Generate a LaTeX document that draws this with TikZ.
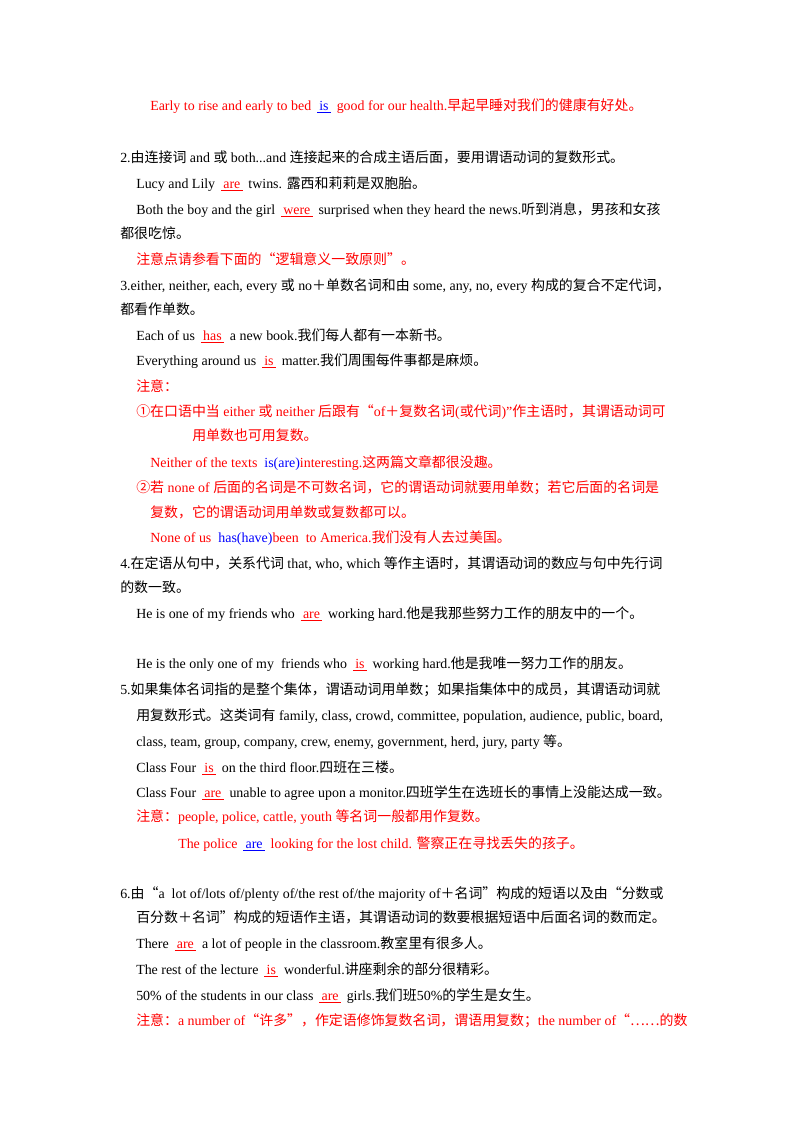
\documentclass[tikz,border=0pt]{standalone}
\usepackage{fontspec}
\setmainfont{Liberation Serif}
\newfontfamily\zhf{Noto Sans CJK SC}
\newcommand\zh[1]{{\zhf #1}}
\newcommand\ulr[1]{\,\textcolor{red}{\underline{\,#1\,}}\,}
\newcommand\ulb[1]{\,\textcolor{blue}{\underline{\,#1\,}}\,}
\begin{document}
\begin{tikzpicture}[x=0.75pt,y=-0.75pt,
  ln/.style={anchor=base west,inner sep=0pt,font=\fontsize{10.45pt}{12pt}\selectfont},
  rd/.style={ln,text=red}]
\fill[white] (0,0) rectangle (800,1132);
\useasboundingbox (0,0) rectangle (800,1132);
\node[rd] (l1) at (150,110) {Early to rise and early to bed \ulb{is} good for our health.\zh{早起早睡对我们的健康有好处。}};
\node[ln] (l2) at (120,162) {2.\zh{由连接词} and \zh{或} both...and \zh{连接起来的合成主语后面，要用谓语动词的复数形式。}};
\node[ln] (l3) at (136,188) {Lucy and Lily \ulr{are} twins. \zh{露西和莉莉是双胞胎。}};
\node[ln] (l4) at (136,214) {Both the boy and the girl \ulr{were} surprised when they heard the news.\zh{听到消息，男孩和女孩}};
\node[ln] (l5) at (120,238) {\zh{都很吃惊。}};
\node[rd] (l6) at (136,264) {\zh{注意点请参看下面的“逻辑意义一致原则”。}};
\node[ln] (l7) at (120,290) {3.either, neither, each, every \zh{或} no\zh{＋}\zh{单数名词和由} some, any, no, every \zh{构成的复合不定代词，}};
\node[ln] (l8) at (120,314) {\zh{都看作单数。}};
\node[ln] (l9) at (136,340) {Each of us \ulr{has} a new book.\zh{我们每人都有一本新书。}};
\node[ln] (l10) at (136,365) {Everything around us \ulr{is} matter.\zh{我们周围每件事都是麻烦。}};
\node[rd] (l11) at (136,391) {\zh{注意：}};
\node[rd] (l12) at (136,416) {\zh{①在口语中当} either \zh{或} neither \zh{后跟有“}of\zh{＋复数名词}(\zh{或代词})”\zh{作主语时，其谓语动词可}};
\node[rd] (l13) at (192,440) {\zh{用单数也可用复数。}};
\node[rd] (l14) at (150,467) {Neither of the texts \ \textcolor{blue}{is(are)}interesting.\zh{这两篇文章都很没趣。}};
\node[rd] (l15) at (136,492) {\zh{②若} none of \zh{后面的名词是不可数名词，它的谓语动词就要用单数；若它后面的名词是}};
\node[rd] (l16) at (150,517) {\zh{复数，它的谓语动词用单数或复数都可以。}};
\node[rd] (l17) at (150,542) {None of us \ \textcolor{blue}{has(have)}been \ to America.\zh{我们没有人去过美国。}};
\node[ln] (l18) at (120,568) {4.\zh{在定语从句中，关系代词} that, who, which \zh{等作主语时，其谓语动词的数应与句中先行词}};
\node[ln] (l19) at (120,592) {\zh{的数一致。}};
\node[ln] (l20) at (136,618) {He is one of my friends who \ulr{are} working hard.\zh{他是我那些努力工作的朋友中的一个。}};
\node[ln] (l21) at (136,668) {He is the only one of my \ friends who \ulr{is} working hard.\zh{他是我唯一努力工作的朋友。}};
\node[ln] (l22) at (120,694) {5.\zh{如果集体名词指的是整个集体，谓语动词用单数；如果指集体中的成员，其谓语动词就}};
\node[ln] (l23) at (136,720) {\zh{用复数形式。这类词有} family, class, crowd, committee, population, audience, public, board,};
\node[ln] (l24) at (136,746) {class, team, group, company, crew, enemy, government, herd, jury, party \zh{等。}};
\node[ln] (l25) at (136,772) {Class Four \ulr{is} on the third floor.\zh{四班在三楼。}};
\node[ln] (l26) at (136,797) {Class Four \ulr{are} unable to agree upon a monitor.\zh{四班学生在选班长的事情上没能达成一致。}};
\node[rd] (l27) at (136,821) {\zh{注意：}people, police, cattle, youth \zh{等名词一般都用作复数。}};
\node[rd] (l28) at (178,848) {The police \ulb{are} looking for the lost child. \zh{警察正在寻找丢失的孩子。}};
\node[ln] (l29) at (120,898) {6.\zh{由“}a \ lot of/lots of/plenty of/the rest of/the majority of\zh{＋名词”构成的短语以及由“分数或}};
\node[ln] (l30) at (136,922) {\zh{百分数＋名词”构成的短语作主语，其谓语动词的数要根据短语中后面名词的数而定。}};
\node[ln] (l31) at (136,948) {There \ulr{are} a lot of people in the classroom.\zh{教室里有很多人。}};
\node[ln] (l32) at (136,974) {The rest of the lecture \ulr{is} wonderful.\zh{讲座剩余的部分很精彩。}};
\node[ln] (l33) at (136,1000) {50\% of the students in our class \ulr{are} girls.\zh{我们班}50\%\zh{的学生是女生。}};
\node[rd] (l34) at (136,1025) {\zh{注意：}a number of\zh{“许多”，作定语修饰复数名词，谓语用复数；}the number of\zh{“……的数}};
\end{tikzpicture}
\end{document}
